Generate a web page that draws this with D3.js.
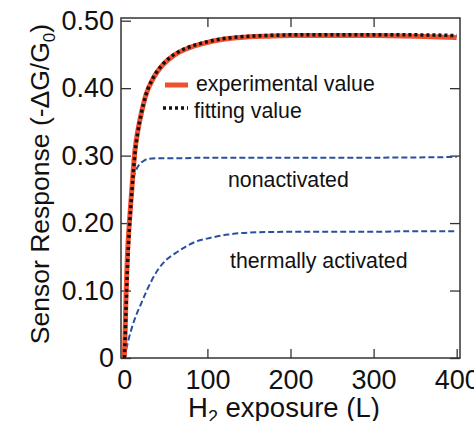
<!DOCTYPE html>
<html><head><meta charset="utf-8">
<script src="https://cdn.jsdelivr.net/npm/d3@7"></script>
<style>html,body{margin:0;padding:0;background:#fff;} svg{display:block;}</style>
</head><body>
<svg id="c" width="474" height="421"></svg>
<script>
// Data
const expX = [0, 1, 2, 4, 6, 9, 13, 16, 20, 26, 35, 46, 60, 76, 91, 117, 139, 170, 200, 250, 300, 350, 400];
const expY = [0, 0.04, 0.09, 0.16, 0.2, 0.25, 0.31, 0.335, 0.36, 0.39, 0.415, 0.434, 0.449, 0.459, 0.465, 0.472, 0.475, 0.477, 0.478, 0.478, 0.478, 0.477, 0.475];
const fitX = [0, 1, 2, 4, 6, 9, 13, 16, 20, 26, 35, 46, 60, 76, 91, 117, 139, 170, 200, 250, 300, 350, 400];
const fitY = [0, 0.03, 0.07, 0.14, 0.19, 0.245, 0.305, 0.333, 0.36, 0.39, 0.416, 0.435, 0.45, 0.46, 0.466, 0.473, 0.476, 0.478, 0.479, 0.479, 0.479, 0.479, 0.478];
const nonX = [0, 2, 4, 6, 8, 10, 14, 18, 23, 28, 40, 60, 100, 200, 300, 400];
const nonY = [0, 0.08, 0.15, 0.2, 0.235, 0.26, 0.278, 0.287, 0.292, 0.295, 0.296, 0.296, 0.297, 0.297, 0.297, 0.298];
const thX = [0, 5, 12, 20, 27, 40, 50, 61, 75, 85, 103, 125, 151, 200, 250, 300, 350, 400];
const thY = [0, 0.027, 0.056, 0.08, 0.10, 0.13, 0.145, 0.155, 0.166, 0.172, 0.178, 0.183, 0.186, 0.187, 0.187, 0.187, 0.188, 0.188];
const xTicks = [0, 100, 200, 300, 400];
const yTicks = [0, 0.1, 0.2, 0.3, 0.4, 0.5];
const yTickLabels = ["0", "0.10", "0.20", "0.30", "0.40", "0.50"];
const legendLabels = ["experimental value", "fitting value"];
const annotations = ["nonactivated", "thermally activated"];

const svg = d3.select("#c");
const F = "'Liberation Sans', Arial, sans-serif";
const L = 121, R = 460, T = 18, B = 358;
const x = d3.scaleLinear().domain([-4, 404]).range([L, R]);
const y = d3.scaleLinear().domain([0, 0.504]).range([B, T]);
const axColor = "#333";

// frame
svg.append("rect").attr("x", L).attr("y", T).attr("width", R - L).attr("height", B - T)
  .attr("fill", "none").attr("stroke", axColor).attr("stroke-width", 1.5);

// axes
const xAx = svg.append("g").attr("transform", `translate(0,${B})`)
  .call(d3.axisBottom(x).tickValues(xTicks).tickSize(-9).tickPadding(12).tickFormat(d3.format("d")));
const xTop = svg.append("g").attr("transform", `translate(0,${T})`)
  .call(d3.axisTop(x).tickValues(xTicks.slice(1, 4)).tickSize(-9).tickFormat(""));
const yAx = svg.append("g").attr("transform", `translate(${L},0)`)
  .call(d3.axisLeft(y).tickValues(yTicks).tickSize(-10).tickPadding(7).tickFormat((d, i) => yTickLabels[i]));
const yR = svg.append("g").attr("transform", `translate(${R},0)`)
  .call(d3.axisRight(y).tickValues(yTicks.slice(0, 5)).tickSize(-10).tickFormat(""));
[xAx, xTop, yAx, yR].forEach(g => {
  g.select(".domain").remove();
  g.selectAll("line").attr("stroke", axColor).attr("stroke-width", 1.3);
  g.selectAll("text").attr("font-family", F).attr("font-size", 27).attr("fill", "#111");
});

// lines
const line = d3.line().x(d => x(d[0])).y(d => y(d[1])).curve(d3.curveMonotoneX);
const zip = (a, b) => a.map((v, i) => [v, b[i]]);
const plot = svg.append("g");
plot.append("path").datum(zip(thX, thY)).attr("d", line).attr("fill", "none")
  .attr("stroke", "#2a4f9e").attr("stroke-width", 2).attr("stroke-dasharray", "6,3");
plot.append("path").datum(zip(nonX, nonY)).attr("d", line).attr("fill", "none")
  .attr("stroke", "#2a4f9e").attr("stroke-width", 2).attr("stroke-dasharray", "6,3");
plot.append("path").datum(zip(expX, expY)).attr("d", line).attr("fill", "none")
  .attr("stroke", "#f0502e").attr("stroke-width", 5);
plot.append("path").datum(zip(fitX, fitY)).attr("d", line).attr("fill", "none")
  .attr("stroke", "#111").attr("stroke-width", 3.5).attr("stroke-dasharray", "3,3");

// legend
svg.append("line").attr("x1", 165).attr("x2", 188).attr("y1", 85).attr("y2", 85)
  .attr("stroke", "#f0502e").attr("stroke-width", 5);
svg.append("line").attr("x1", 163).attr("x2", 188).attr("y1", 108).attr("y2", 108)
  .attr("stroke", "#111").attr("stroke-width", 3.5).attr("stroke-dasharray", "3,3");
svg.append("text").attr("x", 196).attr("y", 91).text(legendLabels[0])
  .attr("font-family", F).attr("font-size", 21.3).attr("fill", "#111");
svg.append("text").attr("x", 194).attr("y", 118).text(legendLabels[1])
  .attr("font-family", F).attr("font-size", 21.3).attr("fill", "#111");

// annotations
svg.append("text").attr("x", 228).attr("y", 187).text(annotations[0])
  .attr("font-family", F).attr("font-size", 21.3).attr("fill", "#111");
svg.append("text").attr("x", 230).attr("y", 268).text(annotations[1])
  .attr("font-family", F).attr("font-size", 21.3).attr("fill", "#111");

// axis titles
const xt = svg.append("text").attr("x", 188).attr("y", 417)
  .attr("font-family", F).attr("font-size", 27.5).attr("fill", "#111");
xt.append("tspan").text("H");
xt.append("tspan").text("2").attr("font-size", 18).attr("dy", 6);
xt.append("tspan").text(" exposure (L)").attr("dy", -6);

const yt = svg.append("text").attr("transform", "translate(49,184) rotate(-90)").attr("text-anchor", "middle")
  .attr("font-family", F).attr("font-size", 26.5).attr("fill", "#111");
yt.append("tspan").text("Sensor Response (-ΔG/G");
yt.append("tspan").text("0").attr("font-size", 17).attr("dy", 6);
yt.append("tspan").text(")").attr("dy", -6);
</script>
</body></html>
